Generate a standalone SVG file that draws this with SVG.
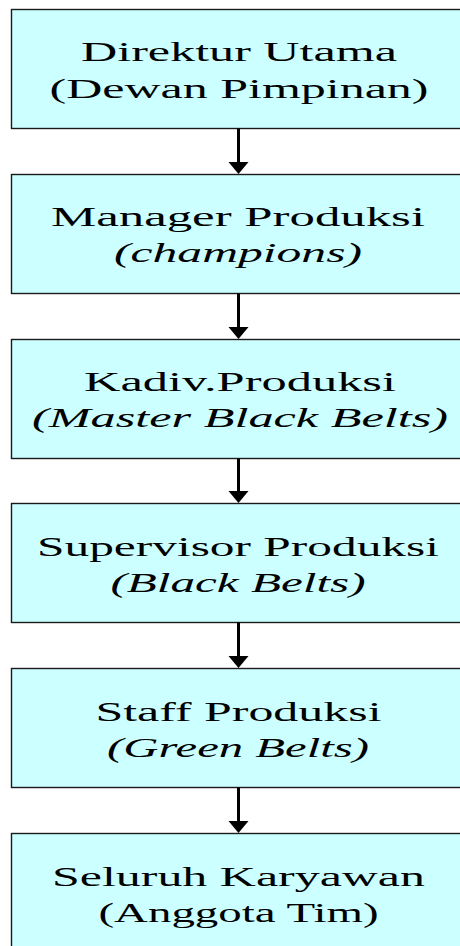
<svg xmlns="http://www.w3.org/2000/svg" width="460" height="946" viewBox="0 0 460 946">
  <style>
    .box { fill: #ccffff; stroke: #1a1a1a; stroke-width: 1.4; }
    .t { font-family: 'Liberation Serif', 'DejaVu Serif', 'Times New Roman', serif; font-size: 27px; fill: #000; text-anchor: middle; }
    .i { font-style: italic; }
    .conn line { stroke: #000; stroke-width: 3; }
    .conn polygon { fill: #000; }
  </style>
  <rect width="460" height="946" fill="#fff"/>

  <!-- chain of command, top to bottom -->
  <g id="direktur-utama">
    <rect class="box" x="11.5" y="9.5" width="460" height="119"/>
    <text class="t" x="239" y="61" textLength="316" lengthAdjust="spacingAndGlyphs">Direktur Utama</text>
    <text class="t" x="239" y="98" textLength="379" lengthAdjust="spacingAndGlyphs">(Dewan Pimpinan)</text>
  </g>

  <g id="manager-produksi">
    <rect class="box" x="11.5" y="174.5" width="460" height="119"/>
    <text class="t" x="238" y="226" textLength="374" lengthAdjust="spacingAndGlyphs">Manager Produksi</text>
    <text class="t i" x="238" y="262" textLength="248" lengthAdjust="spacingAndGlyphs">(champions)</text>
  </g>

  <g id="kadiv-produksi">
    <rect class="box" x="11.5" y="339.5" width="460" height="119"/>
    <text class="t" x="240" y="391" textLength="312" lengthAdjust="spacingAndGlyphs">Kadiv.Produksi</text>
    <text class="t i" x="240" y="427" textLength="416" lengthAdjust="spacingAndGlyphs">(Master Black Belts)</text>
  </g>

  <g id="supervisor-produksi">
    <rect class="box" x="11.5" y="503.5" width="460" height="119"/>
    <text class="t" x="238" y="556" textLength="402" lengthAdjust="spacingAndGlyphs">Supervisor Produksi</text>
    <text class="t i" x="238" y="592" textLength="255" lengthAdjust="spacingAndGlyphs">(Black Belts)</text>
  </g>

  <g id="staff-produksi">
    <rect class="box" x="11.5" y="668.5" width="460" height="119"/>
    <text class="t" x="238.5" y="721" textLength="286" lengthAdjust="spacingAndGlyphs">Staff Produksi</text>
    <text class="t i" x="238" y="757" textLength="262" lengthAdjust="spacingAndGlyphs">(Green Belts)</text>
  </g>

  <g id="seluruh-karyawan">
    <rect class="box" x="11.5" y="833.5" width="460" height="119"/>
    <text class="t" x="238.5" y="886" textLength="373" lengthAdjust="spacingAndGlyphs">Seluruh Karyawan</text>
    <text class="t" x="238.5" y="922" textLength="280" lengthAdjust="spacingAndGlyphs">(Anggota Tim)</text>
  </g>

  <!-- connectors: vertical arrows between consecutive boxes -->
  <g id="connectors" class="conn">
    <line x1="238.5" y1="128.5" x2="238.5" y2="163"/>
    <polygon points="228.5,162 248.5,162 238.5,174"/>
    <line x1="238.5" y1="293.5" x2="238.5" y2="328"/>
    <polygon points="228.5,327 248.5,327 238.5,339"/>
    <line x1="238.5" y1="458.5" x2="238.5" y2="492"/>
    <polygon points="228.5,491 248.5,491 238.5,503"/>
    <line x1="238.5" y1="622.5" x2="238.5" y2="657"/>
    <polygon points="228.5,656 248.5,656 238.5,668"/>
    <line x1="238.5" y1="787.5" x2="238.5" y2="822"/>
    <polygon points="228.5,821 248.5,821 238.5,833"/>
  </g>
</svg>
